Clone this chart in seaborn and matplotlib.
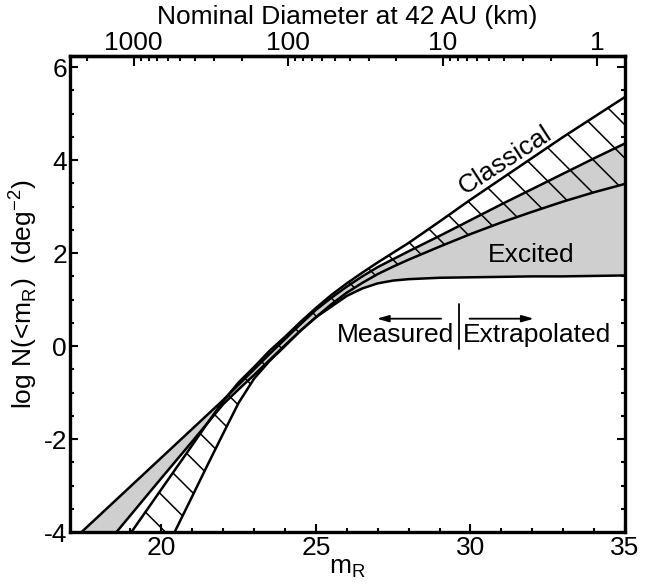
import numpy as np
import pandas as pd
import matplotlib
matplotlib.use('Agg')
import matplotlib.pyplot as plt
import seaborn as sns

# magnitude grid the boundary curves were read at
m_r = [17, 18, 19, 20, 21, 21.5, 22, 22.5, 23, 23.5, 24, 24.5, 25, 25.5,
       26, 26.5, 27, 27.5, 28, 29, 30, 31, 32, 33, 34, 35]

# Classical band (hatched)
classical_hi = [-5.93, -4.98, -4.03, -3.08, -2.13, -1.65, -1.18, -0.78, -0.45, -0.10,
                0.20, 0.52, 0.82, 1.10, 1.35, 1.58, 1.80, 2.01, 2.22, 2.68,
                3.15, 3.60, 4.05, 4.50, 4.93, 5.36]
classical_lo = [-8.60, -7.30, -5.93, -4.58, -3.23, -2.55, -1.88, -1.22, -0.70, -0.32,
                0.00, 0.33, 0.62, 0.90, 1.15, 1.36, 1.55, 1.71, 1.86, 2.14,
                2.41, 2.66, 2.89, 3.11, 3.31, 3.49]

# Excited band (grey)
excited_hi = [-4.26, -3.64, -3.02, -2.40, -1.78, -1.47, -1.16, -0.83, -0.50, -0.17,
              0.15, 0.47, 0.78, 1.04, 1.28, 1.50, 1.70, 1.87, 2.04, 2.37,
              2.71, 3.05, 3.38, 3.71, 4.04, 4.36]
excited_lo = [-5.24, -4.44, -3.64, -2.84, -2.05, -1.65, -1.25, -0.93, -0.62, -0.30,
              0.02, 0.33, 0.62, 0.85, 1.08, 1.24, 1.35, 1.41, 1.44, 1.47,
              1.48, 1.49, 1.50, 1.50, 1.51, 1.52]

# top axis: nominal diameter at 42 AU
diam_ticks = [1000, 100, 10, 1]
diam_labels = ['1000', '100', '10', '1']
m_at_1km = 34.1

sns.set_style('ticks')
plt.rcParams['font.family'] = ['Liberation Sans', 'DejaVu Sans']
plt.rcParams['axes.unicode_minus'] = False
plt.rcParams['text.color'] = 'black'
plt.rcParams['axes.labelcolor'] = 'black'
plt.rcParams['hatch.linewidth'] = 1.1
plt.rcParams['hatch.color'] = 'black'
fs = 19

fig, ax = plt.subplots(figsize=(6.47, 5.84), dpi=100)
fig.subplots_adjust(left=0.108, right=0.966, bottom=0.089, top=0.904)

#bands
ax.fill_between(m_r, excited_lo, excited_hi, facecolor='#cfcfcf', edgecolor='none', lw=0, zorder=1)
ax.fill_between(m_r, classical_lo, classical_hi, facecolor='none', edgecolor='black',
                hatch='\\', lw=0, zorder=2)

#boundary curves
curves = pd.DataFrame({
    'm': m_r * 4,
    'logN': classical_hi + classical_lo + excited_hi + excited_lo,
    'curve': (['c_hi'] * len(m_r) + ['c_lo'] * len(m_r)
              + ['e_hi'] * len(m_r) + ['e_lo'] * len(m_r)),
})
sns.lineplot(data=curves, x='m', y='logN', units='curve', estimator=None,
             color='black', lw=1.8, sort=False, ax=ax, zorder=3, legend=False)

ax.set_xlim(17.04, 35)
ax.set_ylim(-4, 6.24)
ax.set_xticks([20, 25, 30, 35])
ax.set_xticks(np.arange(18, 36, 1), minor=True)
ax.set_yticks([-4, -2, 0, 2, 4, 6])
ax.set_yticks(np.arange(-4, 6.1, 0.5), minor=True)
ax.tick_params(which='both', direction='in', top=False, right=True, width=1.5,
               labelsize=fs, colors='black')
ax.tick_params(which='major', length=6)
ax.tick_params(which='minor', length=3)
ax.tick_params(axis='x', pad=3)
ax.tick_params(axis='y', pad=2)
for s in ax.spines.values():
    s.set_linewidth(2.4)
    s.set_color('black')

ax.set_xlabel(r'm$_\mathregular{R}$', fontsize=fs, labelpad=-3)
ax.set_ylabel(r'log N(<m$_\mathregular{R}$)  (deg$^\mathregular{-2}$)', fontsize=fs, labelpad=3)

# secondary axis in km
def m_to_d(m):
    return 10 ** ((m_at_1km - np.asarray(m)) / 5.0)

def d_to_m(d):
    return m_at_1km - 5.0 * np.log10(np.clip(np.asarray(d, dtype=float), 1e-9, None))

sec = ax.secondary_xaxis('top', functions=(m_to_d, d_to_m))
sec.set_xticks(diam_ticks)
sec.set_xticklabels(diam_labels)
minor_d = [k * 10 ** e for e in range(0, 4) for k in range(2, 10)]
sec.set_xticks(minor_d, minor=True)
sec.tick_params(which='both', direction='in', width=1.5, labelsize=fs, colors='black', pad=1)
sec.tick_params(which='major', length=7)
sec.tick_params(which='minor', length=3.5)
sec.spines['top'].set_linewidth(2.4)
sec.set_xlabel('Nominal Diameter at 42 AU (km)', fontsize=fs, labelpad=5)

# annotations
ax.text(31.13, 4.0, 'Classical', fontsize=fs, rotation=33, ha='center', va='center', zorder=4)
ax.text(31.98, 1.95, 'Excited', fontsize=fs, ha='center', va='center', zorder=4)
ax.plot([29.62, 29.62], [-0.06, 0.91], color='black', lw=1.3)
ax.annotate('', xy=(26.88, 0.59), xytext=(29.14, 0.59),
            arrowprops=dict(arrowstyle='-|>,head_length=0.7,head_width=0.2', color='black', lw=1.3))
ax.annotate('', xy=(32.14, 0.59), xytext=(29.88, 0.59),
            arrowprops=dict(arrowstyle='-|>,head_length=0.7,head_width=0.2', color='black', lw=1.3))
ax.text(29.48, 0.24, 'Measured', fontsize=fs, ha='right', va='center')
ax.text(29.76, 0.24, 'Extrapolated', fontsize=fs, ha='left', va='center')

fig.savefig('out.png', dpi=100)
